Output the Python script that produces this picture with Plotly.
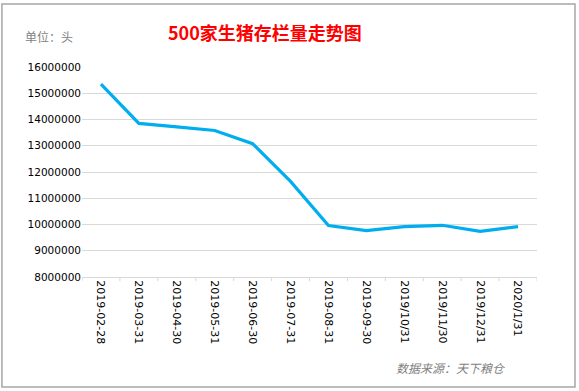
import plotly.graph_objects as go

dates = ["2019-02-28", "2019-03-31", "2019-04-30", "2019-05-31", "2019-06-30",
         "2019-07-31", "2019-08-31", "2019-09-30", "2019/10/31", "2019/11/30",
         "2019/12/31", "2020/1/31"]
stock = [15350000, 13850000, 13720000, 13580000, 13080000, 11640000,
         9960000, 9770000, 9920000, 9970000, 9740000, 9920000]
y_ticks = [8000000, 9000000, 10000000, 11000000, 12000000, 13000000,
           14000000, 15000000, 16000000]

fig = go.Figure()
fig.add_trace(go.Scatter(
    x=list(range(len(dates))), y=stock, mode="lines",
    line=dict(color="#00AEEF", width=3.2),
    hoverinfo="skip", showlegend=False,
))

fig.update_layout(
    width=579, height=391,
    margin=dict(l=82, r=42, t=67, b=114, autoexpand=False),
    paper_bgcolor="white", plot_bgcolor="white",
    font=dict(family="DejaVu Sans, Noto Sans CJK SC", color="black"),
    xaxis=dict(
        tickmode="array", tickvals=list(range(len(dates))), ticktext=dates,
        range=[-0.5, len(dates) - 0.5], tickangle=90, automargin=False,
        tickfont=dict(size=11, family="DejaVu Sans"),
        showgrid=False, showline=True, linecolor="#d9d9d9", linewidth=1,
        ticks="", zeroline=False,
    ),
    yaxis=dict(
        tickmode="array", tickvals=y_ticks, ticktext=[str(v) for v in y_ticks],
        range=[8000000, 16000000], automargin=False,
        tickfont=dict(size=10.5, family="DejaVu Sans"),
        showgrid=True, gridcolor="#d9d9d9", gridwidth=1,
        showline=False, ticks="", zeroline=False,
    ),
    shapes=[
        dict(type="rect", xref="paper", yref="paper", x0=-0.176, x1=1.0835,
             y0=-0.524, y1=1.30, line=dict(color="#a6a6a6", width=1.5)),
    ] + [
        dict(type="line", xref="x", yref="paper", x0=i - 0.5, x1=i - 0.5,
             y0=0, y1=-0.02, line=dict(color="#d9d9d9", width=1))
        for i in range(len(dates) + 1)
    ],
    annotations=[
        dict(text="<b>500家生猪存栏量走势图</b>", xref="paper", yref="paper",
             x=0.402, y=1.167, xanchor="center", yanchor="middle", showarrow=False,
             font=dict(size=18, color="#ff0000", family="Noto Sans CJK SC")),
        dict(text="单位：头", xref="paper", yref="paper",
             x=-0.13, y=1.143, xanchor="left", yanchor="middle", showarrow=False,
             font=dict(size=12, color="#7f7f7f", family="Noto Sans CJK SC")),
        dict(text="<i>数据来源：天下粮仓</i>", xref="paper", yref="paper",
             x=0.936, y=-0.429, xanchor="right", yanchor="middle", showarrow=False,
             font=dict(size=12, color="#7f7f7f", family="Noto Sans CJK SC")),
    ],
)

fig.write_html("out.html", config={"displayModeBar": False},
               post_script="document.body.style.margin='0';document.body.style.overflow='hidden';")
